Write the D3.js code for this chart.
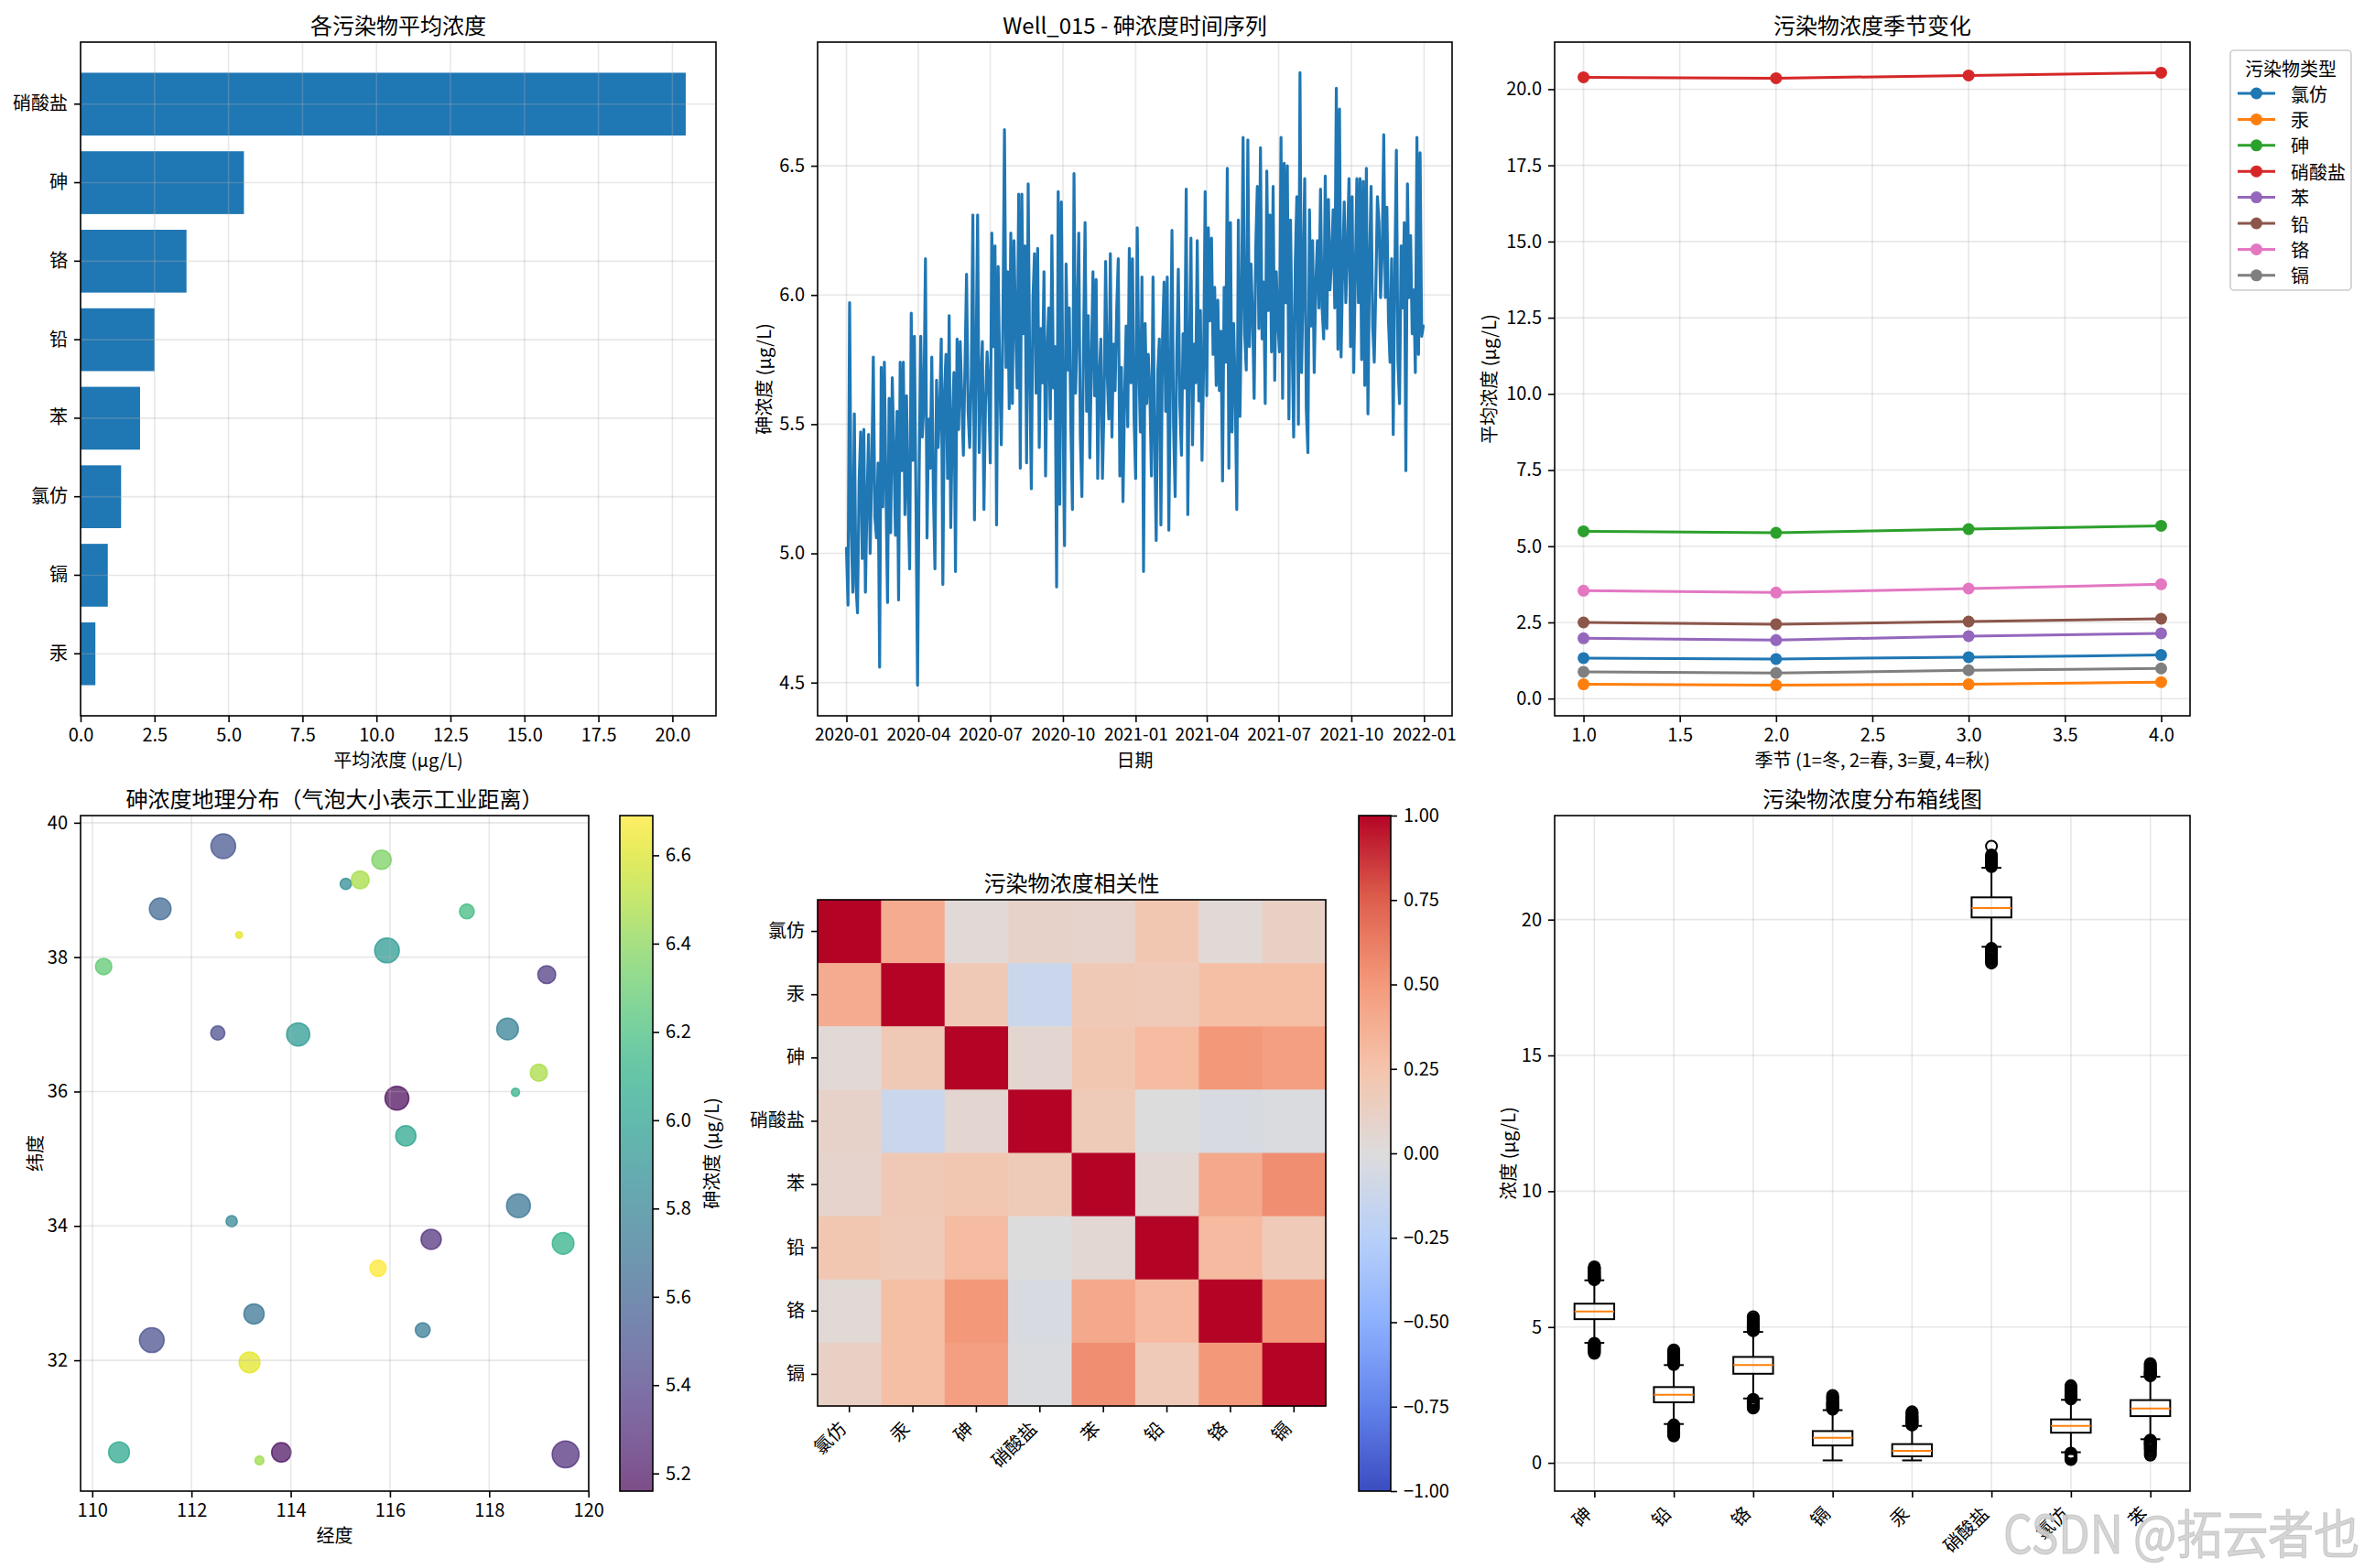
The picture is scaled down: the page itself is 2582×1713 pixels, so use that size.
<!DOCTYPE html>
<html>
<head>
<meta charset="utf-8">
<script src="https://cdn.jsdelivr.net/npm/d3@7"></script>
<style>
body { margin: 0; background: #fff; }
svg { display: block; }
</style>
</head>
<body>
<svg width="2582" height="1713"></svg>
<script>
const FONT = "'Noto Sans CJK SC', 'Noto Sans', sans-serif";

// ---- panel 1: mean concentration ----
const barCats = ["硝酸盐", "砷", "铬", "铅", "苯", "氯仿", "镉", "汞"];
const barMeans = [20.45, 5.52, 3.58, 2.50, 2.01, 1.37, 0.92, 0.50];

// ---- panel 2: Well_015 arsenic series (every 2 days) ----
const tsStart = "2020-01-01";
const tsStepDays = 2;
const arsenicSeries = [
  5.02, 4.80, 5.97, 5.12, 4.85, 5.54, 4.88, 4.77, 5.28, 5.47,
  4.98, 5.48, 4.85, 5.20, 5.46, 5.00, 5.31, 5.76, 5.14, 5.06,
  5.35, 4.56, 5.72, 5.18, 5.74, 5.25, 4.81, 5.60, 5.08, 5.68,
  5.40, 5.07, 5.55, 4.82, 5.74, 5.32, 5.74, 5.15, 5.61, 5.22,
  4.94, 5.93, 5.36, 5.84, 5.20, 4.49, 5.30, 5.84, 5.45, 5.58,
  6.14, 5.06, 5.52, 5.33, 5.76, 5.24, 4.94, 5.67, 5.41, 5.55,
  5.83, 4.88, 5.62, 5.77, 5.29, 5.92, 5.10, 5.49, 5.70, 4.93,
  5.83, 5.48, 5.82, 5.60, 5.38, 5.72, 6.08, 5.55, 5.41, 5.68,
  6.31, 5.13, 5.74, 6.31, 5.39, 5.66, 5.82, 5.17, 5.58, 5.78,
  5.64, 5.35, 6.24, 5.80, 6.19, 5.11, 6.11, 5.69, 5.42, 5.88,
  6.64, 5.72, 6.09, 5.56, 6.24, 5.58, 6.21, 5.90, 5.64, 6.39,
  5.33, 6.39, 5.85, 6.19, 5.35, 6.43, 5.70, 5.25, 5.98, 6.16,
  5.62, 6.18, 5.41, 5.87, 5.66, 6.09, 5.30, 5.78, 5.95, 5.52,
  6.23, 5.64, 5.80, 4.87, 6.40, 5.19, 6.36, 5.58, 5.03, 6.12,
  5.71, 5.95, 5.50, 5.17, 6.47, 5.62, 5.88, 6.24, 5.45, 5.22,
  5.80, 6.28, 5.55, 5.92, 5.37, 5.74, 6.09, 5.61, 6.06, 5.29,
  5.68, 5.83, 5.29, 5.57, 6.13, 5.70, 5.52, 6.16, 5.45, 5.81,
  5.63, 5.94, 6.14, 5.30, 5.72, 5.20, 5.60, 5.88, 5.49, 6.18,
  5.66, 6.14, 5.53, 5.29, 6.26, 5.74, 5.47, 6.07, 4.93, 5.89,
  5.58, 5.77, 5.62, 5.30, 6.07, 5.44, 5.05, 5.70, 5.83, 5.11,
  5.83, 6.05, 5.55, 6.07, 5.09, 5.68, 6.25, 5.49, 5.22, 5.76,
  6.10, 5.57, 5.38, 5.85, 5.64, 6.41, 5.15, 5.73, 6.22, 5.42,
  5.81, 5.66, 6.21, 5.59, 5.94, 5.36, 5.72, 6.40, 5.61, 6.26,
  5.90, 6.22, 5.77, 6.03, 5.65, 5.98, 5.63, 5.86, 5.28, 6.03,
  5.74, 6.49, 5.33, 6.28, 5.47, 5.89, 5.64, 5.17, 6.29, 5.53,
  5.96, 6.61, 5.85, 5.71, 6.60, 5.80, 6.12, 5.92, 5.60, 6.18,
  6.42, 5.87, 6.57, 5.83, 6.05, 5.58, 6.48, 5.94, 6.31, 5.78,
  6.42, 5.67, 6.09, 5.90, 5.78, 6.61, 5.60, 6.51, 5.97, 6.50,
  5.52, 6.29, 5.83, 5.45, 6.12, 6.38, 5.50, 6.86, 5.70, 6.05,
  6.45, 5.56, 5.39, 6.33, 5.88, 6.21, 5.70, 6.04, 6.21, 5.95,
  6.41, 5.95, 5.83, 6.46, 5.87, 6.37, 6.02, 6.14, 6.33, 5.95,
  6.80, 5.79, 6.72, 5.76, 6.10, 6.36, 5.97, 6.18, 6.45, 5.80,
  6.38, 5.70, 6.08, 6.45, 5.97, 6.45, 5.75, 6.44, 5.65, 6.49,
  5.54, 6.12, 6.42, 5.88, 5.74, 6.03, 6.38, 6.28, 5.99, 6.16,
  6.62, 5.99, 6.34, 5.90, 5.74, 6.14, 5.46, 6.08, 6.56, 5.74,
  5.58, 6.19, 5.95, 6.28, 5.32, 6.43, 5.99, 6.23, 5.85, 6.02,
  5.70, 6.61, 5.77, 6.55, 5.84, 5.88
];

// ---- panel 3: seasonal means ----
const seasons = [1, 2, 3, 4];
const seasonCats = ["氯仿", "汞", "砷", "硝酸盐", "苯", "铅", "铬", "镉"];
const seasonColors = ["#1f77b4", "#ff7f0e", "#2ca02c", "#d62728", "#9467bd", "#8c564b", "#e377c2", "#7f7f7f"];
const seasonMeans = [
  [1.33, 1.30, 1.36, 1.43],
  [0.47, 0.44, 0.47, 0.54],
  [5.49, 5.44, 5.56, 5.67],
  [20.39, 20.36, 20.45, 20.54],
  [1.98, 1.92, 2.05, 2.14],
  [2.50, 2.44, 2.53, 2.62],
  [3.54, 3.48, 3.61, 3.75],
  [0.88, 0.84, 0.93, 0.99]
];

// ---- panel 4: wells ----
const wellLon = [112.64, 115.83, 115.11, 115.40, 111.37, 117.55, 112.96, 115.94, 110.23, 119.16,
                 112.53, 114.15, 118.37, 119.00, 118.53, 116.14, 116.32, 118.59, 112.81, 116.83,
                 119.49, 115.76, 113.26, 116.66, 111.20, 113.17, 110.54, 113.37, 113.81, 119.54];
const wellLat = [39.65, 39.45, 39.09, 39.15, 38.72, 38.68, 38.33, 38.10, 37.86, 37.74,
                 36.87, 36.85, 36.93, 36.28, 35.99, 35.90, 35.34, 34.30, 34.07, 33.80,
                 33.74, 33.37, 32.69, 32.45, 32.30, 31.97, 30.63, 30.51, 30.63, 30.60];
const wellArsenic = [5.52, 6.36, 5.85, 6.47, 5.62, 6.18, 6.62, 5.95, 6.28, 5.38,
                     5.47, 5.95, 5.78, 6.48, 6.10, 5.16, 6.03, 5.70, 5.82, 5.33,
                     6.10, 6.69, 5.70, 5.74, 5.48, 6.62, 6.05, 6.45, 5.20, 5.32];
const industryDist = [91, 56, 19, 48, 70, 33, 7, 91, 40, 48,
                      30, 80, 70, 44, 10, 85, 61, 85, 19, 61,
                      70, 40, 61, 33, 91, 65, 65, 12, 56, 108];

// ---- panel 5: correlation ----
const corrCats = ["氯仿", "汞", "砷", "硝酸盐", "苯", "铅", "铬", "镉"];
const corrMatrix = [
  [1.00, 0.40, 0.03, 0.10, 0.09, 0.22, 0.03, 0.12],
  [0.40, 1.00, 0.20, -0.13, 0.20, 0.19, 0.28, 0.28],
  [0.03, 0.20, 1.00, 0.06, 0.22, 0.30, 0.51, 0.47],
  [0.10, -0.13, 0.06, 1.00, 0.18, 0.00, -0.04, -0.02],
  [0.09, 0.20, 0.22, 0.18, 1.00, 0.05, 0.41, 0.55],
  [0.22, 0.19, 0.30, 0.00, 0.05, 1.00, 0.31, 0.19],
  [0.03, 0.28, 0.51, -0.04, 0.41, 0.31, 1.00, 0.51],
  [0.12, 0.28, 0.47, -0.02, 0.55, 0.19, 0.51, 1.00]
];

// ---- panel 6: box plot ----
const boxCats = ["砷", "铅", "铬", "镉", "汞", "硝酸盐", "氯仿", "苯"];
const boxLo  = [4.42, 1.43, 2.37, 0.09, 0.09, 19.00, 0.39, 0.87];
const boxQ1  = [5.29, 2.23, 3.28, 0.64, 0.24, 20.08, 1.11, 1.72];
const boxMed = [5.57, 2.51, 3.60, 0.92, 0.44, 20.43, 1.36, 2.00];
const boxQ3  = [5.86, 2.79, 3.90, 1.17, 0.69, 20.82, 1.60, 2.31];
const boxHi  = [6.72, 3.60, 4.82, 1.94, 1.36, 21.91, 2.32, 3.17];
const boxFliers = [
  [6.74, 6.76, 6.78, 6.80, 6.83, 6.85, 6.88, 6.90, 6.93, 6.96, 6.99, 7.02, 7.05, 7.08, 7.11, 7.14, 7.18, 7.22,
   4.40, 4.37, 4.34, 4.31, 4.28, 4.25, 4.22, 4.19, 4.15, 4.11, 4.07, 4.03],
  [3.62, 3.65, 3.68, 3.71, 3.74, 3.77, 3.80, 3.84, 3.88, 3.92, 3.96, 4.01, 4.06, 4.11, 4.16,
   1.40, 1.37, 1.34, 1.31, 1.28, 1.25, 1.22, 1.19, 1.15, 1.11, 1.07, 1.03, 0.99],
  [4.86, 4.89, 4.92, 4.95, 4.98, 5.01, 5.05, 5.09, 5.13, 5.17, 5.22, 5.27, 5.32, 5.38,
   2.34, 2.31, 2.28, 2.25, 2.22, 2.19, 2.15, 2.11, 2.06, 2.02],
  [1.97, 2.00, 2.03, 2.06, 2.09, 2.12, 2.15, 2.19, 2.23, 2.27, 2.32, 2.37, 2.42, 2.48],
  [1.39, 1.42, 1.45, 1.48, 1.51, 1.54, 1.57, 1.61, 1.65, 1.69, 1.73, 1.78, 1.83, 1.88],
  [21.95, 21.98, 22.01, 22.04, 22.07, 22.10, 22.14, 22.18, 22.22, 22.27, 22.32, 22.38, 22.70,
   18.94, 18.91, 18.88, 18.85, 18.82, 18.79, 18.75, 18.71, 18.67, 18.62, 18.57, 18.52, 18.46, 18.40],
  [2.35, 2.38, 2.41, 2.44, 2.47, 2.50, 2.53, 2.57, 2.61, 2.65, 2.69, 2.74, 2.79, 2.84,
   0.36, 0.33, 0.30, 0.27, 0.24, 0.21, 0.18, 0.15, 0.12],
  [3.20, 3.23, 3.26, 3.29, 3.32, 3.35, 3.38, 3.42, 3.46, 3.50, 3.55, 3.60, 3.65,
   0.84, 0.81, 0.78, 0.75, 0.72, 0.69, 0.66, 0.62, 0.58, 0.53, 0.47, 0.41, 0.34, 0.28]
];

const svg = d3.select("svg");
svg.append("rect").attr("width", 2582).attr("height", 1713).attr("fill", "#fff");
const defs = svg.append("defs");

const fmt1 = d3.format(".1f");
const fmt2 = v => d3.format(".2f")(v).replace("-", "\u2212");

function padExtent(ext, f = 0.05) {
  const r = ext[1] - ext[0];
  return [ext[0] - r * f, ext[1] + r * f];
}

function styleAxis(g) {
  g.attr("font-family", FONT).attr("font-size", 20);
  g.select(".domain").remove();
  g.selectAll(".tick line").attr("stroke", "#000").attr("stroke-width", 1.6);
  g.selectAll(".tick text").attr("fill", "#000");
  return g;
}

function xAxis(box, scale, ticks, format) {
  const ax = d3.axisBottom(scale).tickSize(7).tickPadding(7);
  if (ticks) ax.tickValues(ticks);
  if (format) ax.tickFormat(format);
  return styleAxis(svg.append("g").attr("transform", `translate(0,${box.b})`).call(ax));
}

function yAxis(box, scale, ticks, format) {
  const ax = d3.axisLeft(scale).tickSize(7).tickPadding(7);
  if (ticks) ax.tickValues(ticks);
  if (format) ax.tickFormat(format);
  return styleAxis(svg.append("g").attr("transform", `translate(${box.l},0)`).call(ax));
}

function grid(box, xs, xt, ys, yt) {
  const g = svg.append("g").attr("stroke", "#b0b0b0").attr("stroke-opacity", 0.3).attr("stroke-width", 1.6);
  if (xs) g.selectAll(null).data(xt).join("line")
    .attr("x1", d => xs(d)).attr("x2", d => xs(d)).attr("y1", box.t).attr("y2", box.b);
  if (ys) g.selectAll(null).data(yt).join("line")
    .attr("y1", d => ys(d)).attr("y2", d => ys(d)).attr("x1", box.l).attr("x2", box.r);
}

function frame(box) {
  svg.append("rect").attr("x", box.l).attr("y", box.t)
    .attr("width", box.r - box.l).attr("height", box.b - box.t)
    .attr("fill", "none").attr("stroke", "#000").attr("stroke-width", 1.6);
}

function title(box, text) {
  svg.append("text").attr("x", (box.l + box.r) / 2).attr("y", box.t - 20)
    .attr("text-anchor", "middle").attr("dominant-baseline", "central")
    .attr("font-family", FONT).attr("font-size", 24).text(text);
}

function xLabel(box, text) {
  svg.append("text").attr("x", (box.l + box.r) / 2).attr("y", box.b + 47)
    .attr("text-anchor", "middle").attr("dominant-baseline", "central")
    .attr("font-family", FONT).attr("font-size", 20).text(text);
}

function yLabel(x, yc, text) {
  svg.append("text").attr("transform", `translate(${x},${yc}) rotate(-90)`)
    .attr("text-anchor", "middle").attr("dominant-baseline", "central")
    .attr("font-family", FONT).attr("font-size", 20).text(text);
}

function rotateLabels(g) {
  g.selectAll(".tick text")
    .attr("y", null).attr("dy", null)
    .attr("text-anchor", "end")
    .attr("transform", "translate(-2,26) rotate(-45)");
}

function colorbar(id, box, interp, domain, ticks, format, opacity) {
  const grad = defs.append("linearGradient").attr("id", id)
    .attr("x1", 0).attr("y1", 1).attr("x2", 0).attr("y2", 0);
  d3.range(0, 1.0001, 0.02).forEach(t => {
    grad.append("stop").attr("offset", t).attr("stop-color", interp(t));
  });
  svg.append("rect").attr("x", box.l).attr("y", box.t)
    .attr("width", box.r - box.l).attr("height", box.b - box.t)
    .attr("fill", `url(#${id})`).attr("opacity", opacity);
  frame(box);
  const s = d3.scaleLinear().domain(domain).range([box.b, box.t]);
  styleAxis(svg.append("g").attr("transform", `translate(${box.r},0)`)
    .call(d3.axisRight(s).tickValues(ticks).tickFormat(format).tickSize(7).tickPadding(7)));
}

// ================= panel 1 =================
{
  const box = { l: 88, r: 782, t: 46, b: 782 };
  const x = d3.scaleLinear().domain([0, d3.max(barMeans) * 1.05]).range([box.l, box.r]);
  const y = d3.scaleBand().domain(barCats).range([box.t, box.b]).paddingInner(0.2).paddingOuter(0.39);
  svg.append("g").selectAll("rect").data(barCats).join("rect")
    .attr("x", x(0)).attr("y", d => y(d))
    .attr("width", (d, i) => x(barMeans[i]) - x(0)).attr("height", y.bandwidth())
    .attr("fill", "#1f77b4");
  const xt = d3.range(0, 20.01, 2.5);
  grid(box, x, xt, d => y(d) + y.bandwidth() / 2, barCats);
  xAxis(box, x, xt, fmt1);
  yAxis(box, y);
  frame(box);
  title(box, "各污染物平均浓度");
  xLabel(box, "平均浓度 (μg/L)");
}

// ================= panel 2 =================
{
  const box = { l: 893, r: 1586, t: 46, b: 782 };
  const t0 = d3.timeParse("%Y-%m-%d")(tsStart);
  const pts = arsenicSeries.map((v, i) => ({ date: d3.timeDay.offset(t0, i * tsStepDays), v }));
  const ext = d3.extent(pts, d => d.date);
  const span = ext[1] - ext[0];
  const x = d3.scaleTime().domain([new Date(+ext[0] - span * 0.05), new Date(+ext[1] + span * 0.05)]).range([box.l, box.r]);
  const y = d3.scaleLinear().domain(padExtent(d3.extent(arsenicSeries))).range([box.b, box.t]);
  const xt = d3.timeMonth.range(new Date(2020, 0, 1), new Date(2022, 0, 2), 3);
  const yt = [4.5, 5.0, 5.5, 6.0, 6.5];
  grid(box, x, xt, y, yt);
  svg.append("path").datum(pts)
    .attr("d", d3.line().x(d => x(d.date)).y(d => y(d.v)))
    .attr("fill", "none").attr("stroke", "#1f77b4").attr("stroke-width", 3.2)
    .attr("stroke-linejoin", "round").attr("stroke-linecap", "round");
  xAxis(box, x, xt, d3.timeFormat("%Y-%m")).selectAll(".tick text").attr("font-size", 19);
  yAxis(box, y, yt, fmt1);
  frame(box);
  title(box, "Well_015 - 砷浓度时间序列");
  xLabel(box, "日期");
  yLabel(833, (box.t + box.b) / 2, "砷浓度 (μg/L)");
}

// ================= panel 3 =================
{
  const box = { l: 1698, r: 2392, t: 46, b: 782 };
  const x = d3.scaleLinear().domain(padExtent(d3.extent(seasons))).range([box.l, box.r]);
  const y = d3.scaleLinear().domain(padExtent(d3.extent(seasonMeans.flat()))).range([box.b, box.t]);
  const xt = d3.range(1, 4.01, 0.5);
  const yt = d3.range(0, 20.01, 2.5);
  grid(box, x, xt, y, yt);
  seasonCats.forEach((c, k) => {
    const g = svg.append("g");
    g.append("path").datum(seasonMeans[k])
      .attr("d", d3.line().x((d, i) => x(seasons[i])).y(d => y(d)))
      .attr("fill", "none").attr("stroke", seasonColors[k]).attr("stroke-width", 3);
    g.selectAll("circle").data(seasonMeans[k]).join("circle")
      .attr("cx", (d, i) => x(seasons[i])).attr("cy", d => y(d)).attr("r", 6.5)
      .attr("fill", seasonColors[k]);
  });
  xAxis(box, x, xt, fmt1);
  yAxis(box, y, yt, fmt1);
  frame(box);
  title(box, "污染物浓度季节变化");
  xLabel(box, "季节 (1=冬, 2=春, 3=夏, 4=秋)");
  yLabel(1625, (box.t + box.b) / 2, "平均浓度 (μg/L)");

  // legend
  const lg = svg.append("g");
  lg.append("rect").attr("x", 2436).attr("y", 55).attr("width", 132).attr("height", 262)
    .attr("rx", 4).attr("fill", "#fff").attr("fill-opacity", 0.8)
    .attr("stroke", "#cccccc").attr("stroke-width", 1.6);
  lg.append("text").attr("x", 2502).attr("y", 74).attr("text-anchor", "middle")
    .attr("dominant-baseline", "central").attr("font-family", FONT).attr("font-size", 20)
    .text("污染物类型");
  seasonCats.forEach((c, k) => {
    const yy = 102 + k * 28.4;
    lg.append("line").attr("x1", 2444).attr("x2", 2485).attr("y1", yy).attr("y2", yy)
      .attr("stroke", seasonColors[k]).attr("stroke-width", 3);
    lg.append("circle").attr("cx", 2464.5).attr("cy", yy).attr("r", 6.5).attr("fill", seasonColors[k]);
    lg.append("text").attr("x", 2502).attr("y", yy).attr("dominant-baseline", "central")
      .attr("font-family", FONT).attr("font-size", 20).text(c);
  });
}

// ================= panel 4 =================
{
  const box = { l: 88, r: 643, t: 891, b: 1629 };
  const x = d3.scaleLinear().domain(padExtent(d3.extent(wellLon))).range([box.l, box.r]);
  const y = d3.scaleLinear().domain(padExtent(d3.extent(wellLat))).range([box.b, box.t]);
  const cExt = d3.extent(wellArsenic);
  const color = d3.scaleSequential(d3.interpolateViridis).domain(cExt);
  const r = d3.scaleSqrt().domain([0, 1]).range([0, Math.SQRT2]);
  svg.append("g").selectAll("circle").data(wellLon).join("circle")
    .attr("cx", d => x(d)).attr("cy", (d, i) => y(wellLat[i]))
    .attr("r", (d, i) => r(industryDist[i]))
    .attr("fill", (d, i) => color(wellArsenic[i])).attr("fill-opacity", 0.7)
    .attr("stroke", (d, i) => color(wellArsenic[i])).attr("stroke-opacity", 0.7).attr("stroke-width", 1.5);
  const xt = d3.range(110, 120.01, 2);
  const yt = d3.range(32, 40.01, 2);
  grid(box, x, xt, y, yt);
  xAxis(box, x, xt, d3.format("d"));
  yAxis(box, y, yt, d3.format("d"));
  frame(box);
  title(box, "砷浓度地理分布（气泡大小表示工业距离）");
  xLabel(box, "经度");
  yLabel(37, (box.t + box.b) / 2, "纬度");
  colorbar("viridisBar", { l: 677, r: 713, t: 891, b: 1629 }, d3.interpolateViridis, cExt,
    d3.range(5.2, 6.61, 0.2), fmt1, 0.7);
  yLabel(776, 1260, "砷浓度 (μg/L)");
}

// ================= panel 5 =================
{
  const box = { l: 893, r: 1448, t: 983, b: 1536 };
  const x = d3.scaleBand().domain(corrCats).range([box.l, box.r]);
  const y = d3.scaleBand().domain(corrCats).range([box.t, box.b]);
  const cwStops = ["#3b4cc0", "#6282ea", "#8db0fe", "#b8d0f9", "#dddcdc", "#f5c4ac", "#f49a7b", "#de604d", "#b40426"];
  const cw = d3.scaleLinear().domain(d3.range(0, 1.0001, 0.125)).range(cwStops).interpolate(d3.interpolateRgb);
  const color = d3.scaleLinear().domain([-1, 1]).range([0, 1]);
  const cells = [];
  corrMatrix.forEach((row, i) => row.forEach((v, j) => cells.push({ i, j, v })));
  svg.append("g").selectAll("rect").data(cells).join("rect")
    .attr("x", d => x(corrCats[d.j])).attr("y", d => y(corrCats[d.i]))
    .attr("width", x.bandwidth() + 0.5).attr("height", y.bandwidth() + 0.5)
    .attr("fill", d => cw(color(d.v)));
  rotateLabels(xAxis(box, x));
  yAxis(box, y);
  frame(box);
  title(box, "污染物浓度相关性");
  colorbar("cwBar", { l: 1484, r: 1519, t: 891, b: 1629 }, cw, [-1, 1],
    d3.range(-1, 1.001, 0.25), fmt2, 1);
}

// ================= panel 6 =================
{
  const box = { l: 1698, r: 2392, t: 891, b: 1629 };
  const pos = boxCats.map((c, i) => i + 1);
  const x = d3.scaleLinear().domain([0.5, boxCats.length + 0.5]).range([box.l, box.r]);
  const allVals = boxLo.concat(boxHi, boxFliers.flat());
  const y = d3.scaleLinear().domain(padExtent(d3.extent(allVals))).range([box.b, box.t]);
  const yt = [0, 5, 10, 15, 20];
  grid(box, x, pos, y, yt);
  const bw = x(1.25) - x(1);
  const cw = x(1.125) - x(1);
  const g = svg.append("g").attr("stroke", "#000").attr("stroke-width", 2).attr("fill", "none");
  boxCats.forEach((c, i) => {
    const cx = x(pos[i]);
    g.append("line").attr("x1", cx).attr("x2", cx).attr("y1", y(boxQ3[i])).attr("y2", y(boxHi[i]));
    g.append("line").attr("x1", cx).attr("x2", cx).attr("y1", y(boxQ1[i])).attr("y2", y(boxLo[i]));
    g.append("line").attr("x1", cx - cw).attr("x2", cx + cw).attr("y1", y(boxHi[i])).attr("y2", y(boxHi[i]));
    g.append("line").attr("x1", cx - cw).attr("x2", cx + cw).attr("y1", y(boxLo[i])).attr("y2", y(boxLo[i]));
    g.append("rect").attr("x", cx - bw).attr("y", y(boxQ3[i]))
      .attr("width", bw * 2).attr("height", y(boxQ1[i]) - y(boxQ3[i]));
    g.append("line").attr("x1", cx - bw).attr("x2", cx + bw).attr("y1", y(boxMed[i])).attr("y2", y(boxMed[i]))
      .attr("stroke", "#ff7f0e");
    g.selectAll(null).data(boxFliers[i]).join("circle")
      .attr("cx", cx).attr("cy", d => y(d)).attr("r", 6);
  });
  rotateLabels(xAxis(box, x, pos, (d) => boxCats[d - 1]));
  yAxis(box, y, yt, d3.format("d"));
  frame(box);
  title(box, "污染物浓度分布箱线图");
  yLabel(1646, (box.t + box.b) / 2, "浓度 (μg/L)");
}

// watermark
svg.append("text").attr("transform", "translate(2188,1697) scale(1,1.14)")
  .attr("font-family", FONT).attr("font-size", 50)
  .attr("fill", "#d0d0d0").attr("fill-opacity", 0.9)
  .attr("stroke", "#b5b5b5").attr("stroke-width", 1).attr("stroke-opacity", 0.6)
  .text("CSDN @拓云者也");
</script>
</body>
</html>
